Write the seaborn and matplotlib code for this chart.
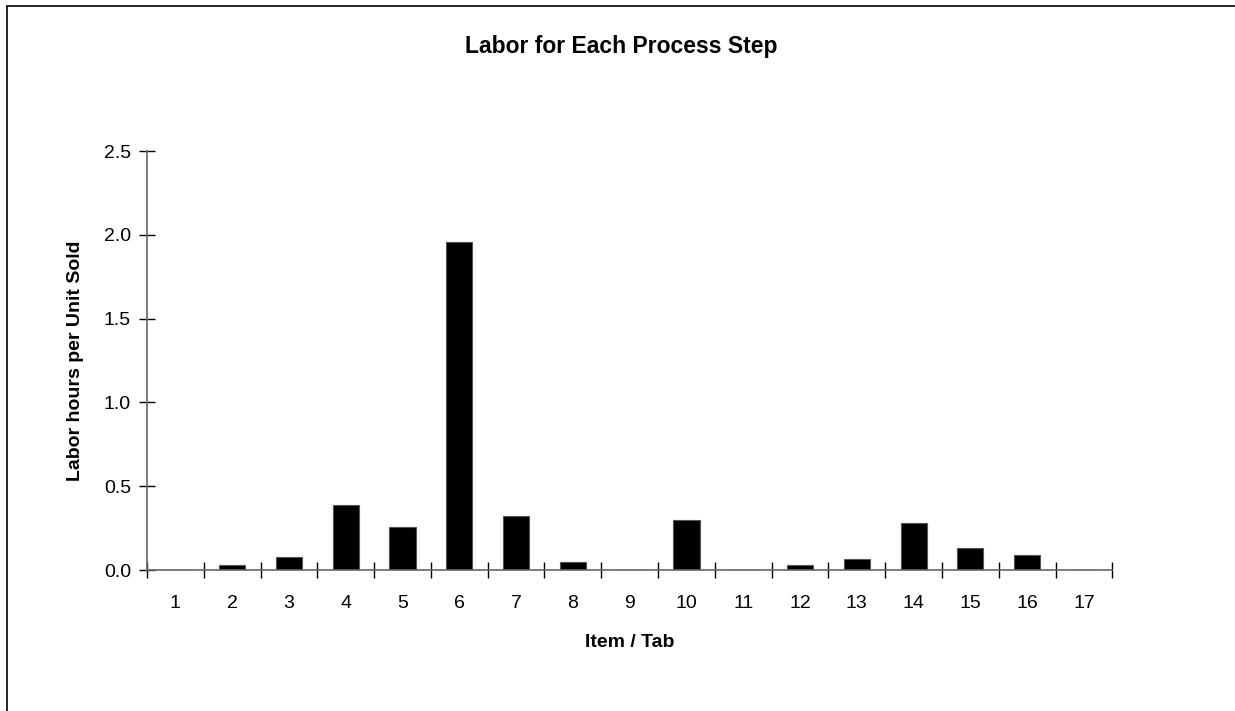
import matplotlib
matplotlib.use("Agg")
import matplotlib.pyplot as plt
from matplotlib.patches import Rectangle
import numpy as np
import pandas as pd
import seaborn as sns

# Labor hours per unit sold for each process step (item / tab number)
items = ["1", "2", "3", "4", "5", "6", "7", "8", "9", "10",
         "11", "12", "13", "14", "15", "16", "17"]
labor_hours = [0.0, 0.03, 0.075, 0.39, 0.255, 1.96, 0.325, 0.05, 0.0, 0.30,
               0.0, 0.03, 0.065, 0.278, 0.13, 0.088, 0.0]

y_ticks = [0.0, 0.5, 1.0, 1.5, 2.0, 2.5]

title = "Labor for Each Process Step"
x_label = "Item / Tab"
y_label = "Labor hours per Unit Sold"

sns.set_theme(style="white")
plt.rcParams["font.family"] = ["Liberation Sans", "DejaVu Sans"]
plt.rcParams["text.color"] = "black"
plt.rcParams["axes.labelcolor"] = "black"

df = pd.DataFrame({"item": items, "hours": labor_hours})

fig = plt.figure(figsize=(12.35, 7.11), dpi=100)
fig.patch.set_facecolor("white")
ax = fig.add_axes([0.119, 0.1983, 0.7817, 0.5893])

sns.barplot(data=df, x="item", y="hours", order=items, color="black",
            width=0.46, edgecolor="#555555", linewidth=0.8, saturation=1,
            ax=ax)

ax.set_xlim(-0.5, len(items) - 0.5)
ax.set_ylim(0, 2.5)

# Tick marks at category boundaries, labels at category centres
ax.set_xticks(np.arange(-0.5, len(items), 1.0))
ax.set_xticklabels([])
ax.set_xticks(np.arange(len(items)), minor=True)
ax.set_xticklabels(items, minor=True)
ax.tick_params(axis="x", which="major", direction="inout", length=11,
               width=1, color="black", bottom=True)
ax.tick_params(axis="x", which="minor", length=0, pad=18,
               labelsize=14, labelcolor="black")

ax.set_yticks(y_ticks)
ax.set_yticklabels([f"{v:.1f}" for v in y_ticks])
ax.tick_params(axis="y", which="major", direction="inout", length=11,
               width=1, color="black", left=True, labelsize=14,
               labelcolor="black", pad=6)

for side in ["top", "right"]:
    ax.spines[side].set_visible(False)
for side in ["left", "bottom"]:
    ax.spines[side].set_visible(True)
    ax.spines[side].set_color("#666666")
    ax.spines[side].set_linewidth(1.2)

ax.set_xlabel(x_label, fontsize=14, fontweight="bold", labelpad=16,
              color="black")
ax.set_ylabel(y_label, fontsize=14, fontweight="bold", labelpad=14,
              color="black")

fig.text(621 / 1235, 1 - 47 / 711, title, ha="center", va="center",
         fontsize=16.5, fontweight="bold", color="black")

# Chart-area frame
fig.patches.append(Rectangle((7 / 1235, -0.2), 1.2, 1.2 - 6 / 711,
                             transform=fig.transFigure, fill=False,
                             edgecolor="black", linewidth=1.2,
                             figure=fig))

fig.savefig("out.png", dpi=100, facecolor="white")
